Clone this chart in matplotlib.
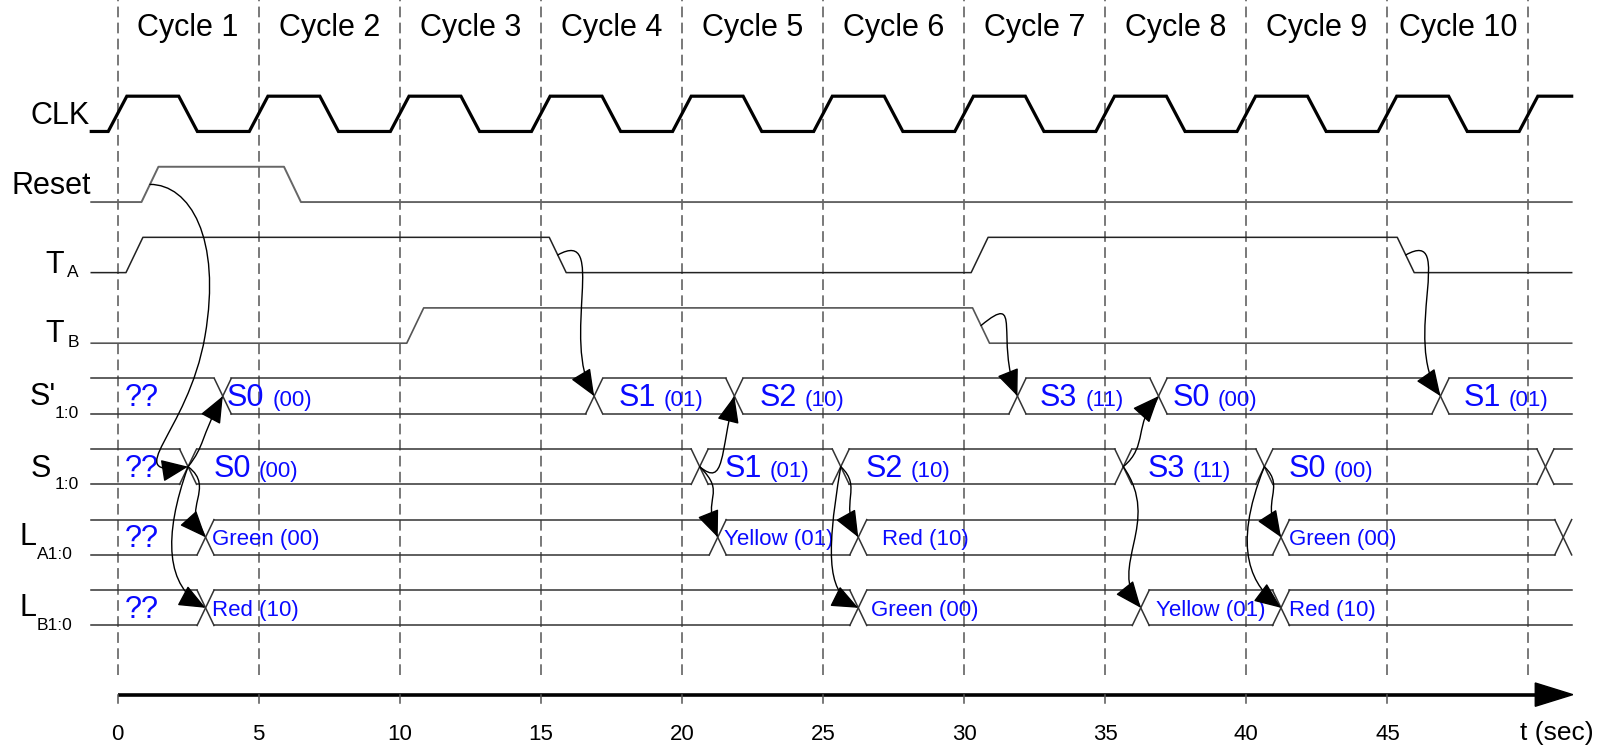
#!/usr/bin/env python
# -*- coding: utf-8 -*-
"""Timing diagram of the traffic light FSM (CLK, Reset, T_A, T_B, S', S, L_A, L_B)."""
import matplotlib
matplotlib.use('Agg')
import matplotlib.pyplot as plt
from matplotlib.path import Path
from matplotlib.patches import FancyArrowPatch, Polygon
from matplotlib import font_manager

# ---- data (times in seconds) ----
cycle_names = ['Cycle 1', 'Cycle 2', 'Cycle 3', 'Cycle 4', 'Cycle 5',
               'Cycle 6', 'Cycle 7', 'Cycle 8', 'Cycle 9', 'Cycle 10']
cycle_bounds = [0, 5, 10, 15, 20, 25, 30, 35, 40, 45, 50]
time_ticks = [0, 5, 10, 15, 20, 25, 30, 35, 40, 45]

clk_edges = [0, 2.5, 5, 7.5, 10, 12.5, 15, 17.5, 20, 22.5, 25, 27.5, 30,
             32.5, 35, 37.5, 40, 42.5, 45, 47.5, 50]
reset_edges = [1.15, 6.2]
ta_edges = [0.6, 15.6, 30.55, 45.65]
tb_edges = [10.55, 30.6]

sp_times = [3.73, 16.89, 21.86, 31.89, 36.89, 46.88]
sp_states = ['??', 'S0', 'S1', 'S2', 'S3', 'S0', 'S1']
sp_codes = ['', '(00)', '(01)', '(10)', '(11)', '(00)', '(01)']

s_times = [2.5, 20.63, 25.63, 35.64, 40.64, 50.6]
s_states = ['??', 'S0', 'S1', 'S2', 'S3', 'S0', '']
s_codes = ['', '(00)', '(01)', '(10)', '(11)', '(00)', '']

la_times = [3.12, 21.27, 26.25, 41.23, 51.23]
la_values = ['??', 'Green (00)', 'Yellow (01)', 'Red (10)', 'Green (00)', '']

lb_times = [3.12, 26.25, 36.26, 41.23]
lb_values = ['??', 'Red (10)', 'Green (00)', 'Yellow (01)', 'Red (10)']

# cause -> effect arrows: (source row, source time, target row, target time)
causes = [('Reset', 1.15, 'S', 2.5), ('S', 2.5, 'Sp', 3.73),
          ('S', 2.5, 'LA', 3.12), ('S', 2.5, 'LB', 3.12),
          ('TA', 15.6, 'Sp', 16.89), ('S', 20.63, 'Sp', 21.86),
          ('S', 20.63, 'LA', 21.27), ('S', 25.63, 'LA', 26.25),
          ('S', 25.63, 'LB', 26.25), ('TB', 30.6, 'Sp', 31.89),
          ('S', 35.64, 'Sp', 36.89), ('S', 35.64, 'LB', 36.26),
          ('S', 40.64, 'LA', 41.23), ('S', 40.64, 'LB', 41.23),
          ('TA', 45.65, 'Sp', 46.88)]

# ---- layout / style ----
ROWS = {'CLK': 0, 'Reset': 1, 'TA': 2, 'TB': 3, 'Sp': 4, 'S': 5, 'LA': 6, 'LB': 7}
AMP = 0.5
T_START, T_END = -0.93, 51.53
BLUE = '#0a0aff'

# curve shape of each cause arrow: offsets of the bezier control points,
# optionally with a via point (offset from the start) and its tangent
bends = [((1.4, 0.0), (-2.5, -0.155), (1.95, -2.15), (-0.6, -1.4)),
         ((0.6, 0.3), (-0.8, -0.6)),
         ((1.0, -0.3), (-0.9, 0.4)), ((-0.9, -1.0), (-1.4, 0.3)),
         ((1.8, 0.4), (-1.2, 0.8)), ((0.9, -0.3), (-0.5, -0.8)),
         ((1.0, -0.4), (-0.6, 0.6)), ((0.8, -0.3), (-0.7, 0.5)),
         ((-0.6, -1.4), (-1.0, 0.2)), ((1.5, 0.5), (-0.8, 0.8)),
         ((0.9, 0.3), (-0.9, -0.4)), ((1.4, -0.8), (-1.2, 0.6)),
         ((0.8, -0.3), (-0.8, 0.5)), ((-1.2, -1.2), (-1.0, 0.3)),
         ((1.8, 0.4), (-1.4, 0.8))]

# where each bus value text starts, relative to the preceding crossing
sp_offsets = [0.15, 0.86, 0.89, 0.8, 0.5, 0.82]
s_offsets = [0.89, 0.87, 0.87, 0.86, 0.86, 0.86]
la_offsets = [0.24, 0.23, 0.85, 0.27, 0.27]
lb_offsets = [0.24, 0.45, 0.54, 0.27]

names = {f.name for f in font_manager.fontManager.ttflist}
plt.rcParams['font.family'] = ['Liberation Sans' if 'Liberation Sans' in names
                               else 'DejaVu Sans']


def low(row):
    return -ROWS[row]


def mid(row):
    return -ROWS[row] + AMP / 2


def digital(ax, row, edges, width, **kw):
    """Draw a single bit signal with sloped edges."""
    level = 0
    xs, ys = [T_START], [low(row)]
    for e in edges:
        xs += [e - width / 2, e + width / 2]
        ys += [low(row) + level * AMP, low(row) + (1 - level) * AMP]
        level = 1 - level
    xs.append(T_END)
    ys.append(low(row) + level * AMP)
    ax.plot(xs, ys, **kw)


def bus(ax, row, times, width=0.6, **kw):
    """Draw a multi bit bus with X shaped crossings."""
    top, bot = low(row) + AMP, low(row)
    starts = [T_START] + [t + width / 2 for t in times]
    ends = [t - width / 2 for t in times] + [T_END]
    for s, e in zip(starts, ends):
        if e > s:
            ax.plot([s, e], [top, top], **kw)
            ax.plot([s, e], [bot, bot], **kw)
    for t in times:
        ax.plot([t - width / 2, t + width / 2], [top, bot], **kw)
        ax.plot([t - width / 2, t + width / 2], [bot, top], **kw)


def state_texts(ax, row, times, states, codes, offsets):
    base = low(row) + 0.11
    ax.text(0.27, base, states[0], color=BLUE, fontsize=22, va='baseline')
    for t, st, cd, off in zip(times, states[1:], codes[1:], offsets):
        if not st:
            continue
        ax.text(t + off, base, st, color=BLUE, fontsize=22, va='baseline')
        ax.text(t + off + 1.6, base, cd, color=BLUE, fontsize=16, va='baseline')


def light_texts(ax, row, times, values, offsets):
    ax.text(0.27, low(row) + 0.11, values[0], color=BLUE, fontsize=22,
            va='baseline')
    for t, val, off in zip(times, values[1:], offsets):
        if val:
            ax.text(t + off, low(row) + 0.14, val, color=BLUE, fontsize=16,
                    va='baseline')


def arrow_path(p0, p3, bend):
    """Bezier path from cause to effect, one or two cubic segments."""
    d1, d2 = bend[0], bend[1]
    p1 = (p0[0] + d1[0], p0[1] + d1[1])
    p2 = (p3[0] + d2[0], p3[1] + d2[1])
    if len(bend) == 2:
        return Path([p0, p1, p2, p3],
                    [Path.MOVETO, Path.CURVE4, Path.CURVE4, Path.CURVE4])
    via = (p0[0] + bend[2][0], p0[1] + bend[2][1])
    tan = bend[3]
    c2 = (via[0] - tan[0], via[1] - tan[1])
    c3 = (via[0] + tan[0], via[1] + tan[1])
    return Path([p0, p1, c2, via, c3, p2, p3],
                [Path.MOVETO] + [Path.CURVE4] * 6)


def main():
    fig = plt.figure(figsize=(16.03, 7.47), dpi=100)
    ax = fig.add_axes([0, 0, 1, 1])
    ax.set_xlim(-4.164, 52.64)
    ax.set_ylim(-8.722, 1.863)
    ax.axis('off')

    # cycle boundaries and names
    for b in cycle_bounds:
        ax.plot([b, b], [-7.70, 1.863], color='#555555', lw=1.1,
                ls=(0, (7, 3.5)), zorder=1)
    for name, b in zip(cycle_names, cycle_bounds):
        ax.text(b + 2.5, 1.353, name, fontsize=22, ha='center', va='baseline')

    # single bit signals
    digital(ax, 'CLK', clk_edges, 0.66, color='black', lw=2.3,
            solid_joinstyle='miter')
    digital(ax, 'Reset', reset_edges, 0.6, color='#666666', lw=1.4)
    digital(ax, 'TA', ta_edges, 0.6, color='#222222', lw=1.1)
    digital(ax, 'TB', tb_edges, 0.6, color='#555555', lw=1.2)

    # buses
    for r, ts in (('Sp', sp_times), ('S', s_times),
                  ('LA', la_times), ('LB', lb_times)):
        bus(ax, r, ts, color='#333333', lw=1.1)
    state_texts(ax, 'Sp', sp_times, sp_states, sp_codes, sp_offsets)
    state_texts(ax, 'S', s_times, s_states, s_codes, s_offsets)
    light_texts(ax, 'LA', la_times, la_values, la_offsets)
    light_texts(ax, 'LB', lb_times, lb_values, lb_offsets)

    # row names
    ax.text(-0.98, low('CLK') + 0.11, 'CLK', fontsize=22, ha='right',
            va='baseline')
    ax.text(-0.94, low('Reset') + 0.12, 'Reset', fontsize=22, ha='right',
            va='baseline')
    sub_labels = [('TA', 'T', 'A', -1.88, -1.78, 0.0),
                  ('TB', 'T', 'B', -1.88, -1.78, 0.02),
                  ('Sp', "S'", '1:0', -2.2, -2.22, 0.12),
                  ('S', 'S', '1:0', -2.37, -2.22, 0.10),
                  ('LA', 'L', 'A1:0', -2.88, -2.86, 0.14),
                  ('LB', 'L', 'B1:0', -2.88, -2.86, 0.14)]
    for r, big, small, xb, xs, dy in sub_labels:
        ax.text(xb, low(r) + dy, big, fontsize=22, ha='right', va='baseline')
        ax.text(xs, low(r) - 0.06, small, fontsize=12.5, ha='left',
                va='baseline')

    # cause -> effect arrows
    for (src, ts, dst, td), bend in zip(causes, bends):
        path = arrow_path((ts, mid(src)), (td, mid(dst)), bend)
        ax.add_patch(FancyArrowPatch(
            path=path, arrowstyle='-|>,head_length=0.6,head_width=0.25',
            mutation_scale=28, lw=1.0, color='black',
            transform=ax.transData, zorder=5))

    # time axis
    y_axis = -7.98
    ax.plot([0, 50.4], [y_axis, y_axis], color='black', lw=2.6,
            solid_capstyle='butt')
    ax.add_patch(Polygon([[50.24, y_axis + 0.165], [51.57, y_axis],
                          [50.24, y_axis - 0.165]], closed=True,
                         color='black'))
    for t in time_ticks:
        ax.plot([t, t], [y_axis, y_axis - 0.12], color='#555555', lw=1.1)
        ax.text(t, -8.62, str(t), fontsize=16, ha='center', va='baseline')
    ax.text(51.0, -8.62, 't (sec)', fontsize=19, ha='center', va='baseline')

    fig.savefig('out.png', dpi=100)


if __name__ == '__main__':
    main()
